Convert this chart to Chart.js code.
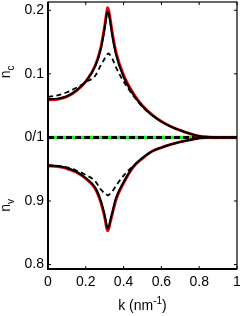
<!DOCTYPE html>
<html>
<head>
<meta charset="utf-8">
<script src="https://cdn.jsdelivr.net/npm/chart.js@4/dist/chart.umd.min.js"></script>
<style>
  html, body { margin: 0; padding: 0; background: #fff; }
  #wrap { width: 240px; height: 316px; }
</style>
</head>
<body>
<div id="wrap"><canvas id="chart"></canvas></div>
<script>
// k values (nm^-1)
const k = [0, 0.05, 0.1, 0.15, 0.2, 0.25, 0.28, 0.3, 0.31, 0.315, 0.32, 0.33, 0.34, 0.36, 0.4, 0.45, 0.5, 0.55, 0.6, 0.65, 0.7, 0.75, 0.8, 0.85, 0.9, 0.95, 1];

// n_c (upper panel)
const ncRed   = [0.059, 0.060, 0.064, 0.073, 0.088, 0.113, 0.142, 0.176, 0.196, 0.204, 0.201, 0.185, 0.165, 0.134, 0.098, 0.070, 0.050, 0.036, 0.025, 0.017, 0.011, 0.006, 0.002, 0.0005, 0, 0, 0];
const ncBlack = [0.060, 0.061, 0.065, 0.074, 0.088, 0.112, 0.140, 0.172, 0.192, 0.198, 0.196, 0.180, 0.160, 0.130, 0.095, 0.068, 0.049, 0.035, 0.025, 0.017, 0.011, 0.006, 0.002, 0.0005, 0, 0, 0];
const ncDash  = [0.064, 0.066, 0.071, 0.078, 0.087, 0.097, 0.114, 0.124, 0.129, 0.131, 0.132, 0.129, 0.124, 0.110, 0.088, 0.066, 0.048, 0.035, 0.025, 0.017, 0.011, 0.006, 0.002, 0.0005, 0, 0, 0];

// n_v (lower panel)
const nvRed   = [0.955, 0.954, 0.951, 0.945, 0.935, 0.919, 0.897, 0.874, 0.858, 0.853, 0.855, 0.867, 0.879, 0.902, 0.928, 0.953, 0.967, 0.978, 0.984, 0.989, 0.993, 0.996, 0.999, 1, 1, 1, 1];
const nvBlack = [0.956, 0.955, 0.952, 0.946, 0.936, 0.921, 0.900, 0.878, 0.862, 0.857, 0.858, 0.870, 0.882, 0.905, 0.930, 0.954, 0.968, 0.978, 0.984, 0.989, 0.993, 0.996, 0.999, 1, 1, 1, 1];
const nvDash  = [0.956, 0.955, 0.953, 0.948, 0.941, 0.931, 0.918, 0.912, 0.910, 0.909, 0.909, 0.912, 0.915, 0.924, 0.940, 0.955, 0.967, 0.978, 0.984, 0.989, 0.993, 0.996, 0.999, 1, 1, 1, 1];

// flat reference line at n_c = 0 / n_v = 1
const kFlat = [0, 1];
const flat  = [0, 0];

// tick labels: axis value -> text (lower half shows n_v = 1 + value)
const yTickVals = [-0.2, -0.1, 0, 0.1, 0.2];
const yTickText = ['0.8', '0.9', '0/1', '0.1', '0.2'];
const xTickVals = [0, 0.2, 0.4, 0.6, 0.8, 1];
const xTickText = ['0', '0.2', '0.4', '0.6', '0.8', '1'];

const FONT = '"Liberation Sans", Arial, sans-serif';

const pts = (xs, ys, f) => xs.map((x, i) => ({ x: x, y: f ? f(ys[i]) : ys[i] }));
const v2u = v => v - 1;

function line(data, color, width, dash, order) {
  return {
    data: data, borderColor: color, borderWidth: width, borderDash: dash || [],
    pointRadius: 0, fill: false, cubicInterpolationMode: 'monotone', order: order
  };
}

// box, inward ticks and axis titles with sub/superscripts
const frame = {
  id: 'frame',
  afterDatasetsDraw(chart) {
    const c = chart.ctx, a = chart.chartArea;
    const xs = chart.scales.x, ys = chart.scales.y;
    c.save();
    c.strokeStyle = '#000';
    c.lineWidth = 1.2;
    c.strokeRect(a.left, a.top, a.right - a.left, a.bottom - a.top);
    c.lineWidth = 2;
    c.beginPath();
    c.moveTo(a.left, a.top); c.lineTo(a.left, a.bottom); c.lineTo(a.right, a.bottom);
    c.stroke();
    c.lineWidth = 1;
    c.beginPath();
    xTickVals.forEach(v => {
      const p = xs.getPixelForValue(v);
      c.moveTo(p, a.bottom); c.lineTo(p, a.bottom - 3);
      c.moveTo(p, a.top); c.lineTo(p, a.top + 3);
    });
    yTickVals.forEach(v => {
      const p = ys.getPixelForValue(v);
      c.moveTo(a.left, p); c.lineTo(a.left + 3, p);
      c.moveTo(a.right, p); c.lineTo(a.right - 3, p);
    });
    c.stroke();

    c.fillStyle = '#000';
    c.textBaseline = 'alphabetic';
    // x title: k (nm^-1)
    const big = '14px ' + FONT, small = '10px ' + FONT;
    c.font = big;
    const w1 = c.measureText('k (nm').width, w3 = c.measureText(')').width;
    c.font = small;
    const w2 = c.measureText('-1').width;
    let x0 = (a.left + a.right) / 2 - (w1 + w2 + w3) / 2;
    const yb = chart.height - 6;
    c.font = big; c.textAlign = 'left';
    c.fillText('k (nm', x0, yb);
    c.font = small; c.fillText('-1', x0 + w1, yb - 6.5);
    c.font = big; c.fillText(')', x0 + w1 + w2, yb);

    // y titles, rotated
    function ytitle(base, sub, cy) {
      c.save();
      c.translate(9.5, cy);
      c.rotate(-Math.PI / 2);
      c.font = big;
      const wb = c.measureText(base).width;
      c.font = small;
      const ws = c.measureText(sub).width;
      const sx = -(wb + ws) / 2;
      c.font = big; c.fillText(base, sx, 0);
      c.font = small; c.fillText(sub, sx + wb, 4.5);
      c.restore();
    }
    ytitle('n', 'c', ys.getPixelForValue(0.1) - 2);
    ytitle('n', 'v', ys.getPixelForValue(-0.1) + 4.5);
    c.restore();
  }
};

new Chart(document.getElementById('chart'), {
  type: 'line',
  data: {
    datasets: [
      line(pts(kFlat, flat), '#22ee22', 3.5, null, 9),
      line(pts(kFlat, flat), '#000', 3, [6, 3], 8),
      line(pts(k, ncRed), '#ee0000', 2.8, null, 7),
      line(pts(k, nvRed, v2u), '#ee0000', 2.8, null, 6),
      line(pts(k, ncDash), '#000', 1.8, [5, 3.5], 5),
      line(pts(k, nvDash, v2u), '#000', 1.8, [5, 3.5], 4),
      line(pts(k, ncBlack), '#000', 2, null, 3),
      line(pts(k, nvBlack, v2u), '#000', 2, null, 2)
    ]
  },
  options: {
    responsive: true,
    maintainAspectRatio: false,
    animation: false,
    layout: { padding: { top: 2, right: 3, left: 0, bottom: 0 } },
    plugins: { legend: { display: false }, tooltip: { enabled: false } },
    scales: {
      x: {
        type: 'linear', min: 0, max: 1,
        grid: { display: false, drawTicks: false },
        border: { display: false },
        afterBuildTicks: s => { s.ticks = xTickVals.map(v => ({ value: v })); },
        afterFit: s => { s.height = 47; s.paddingLeft = 0; s.paddingRight = 0; },
        ticks: {
          maxRotation: 0, autoSkip: false, padding: 5, color: '#000',
          font: { family: FONT, size: 14 },
          callback: v => xTickText[xTickVals.indexOf(v)]
        }
      },
      y: {
        type: 'linear', min: -0.207, max: 0.213,
        grid: { display: false, drawTicks: false },
        border: { display: false },
        afterBuildTicks: s => { s.ticks = yTickVals.map(v => ({ value: v })); },
        afterFit: s => { s.width = 48; s.paddingTop = 0; s.paddingBottom = 0; },
        ticks: {
          autoSkip: false, padding: 4, color: '#000',
          font: { family: FONT, size: 14 },
          callback: v => yTickText[yTickVals.indexOf(v)]
        }
      }
    }
  },
  plugins: [frame]
});
</script>
</body>
</html>
